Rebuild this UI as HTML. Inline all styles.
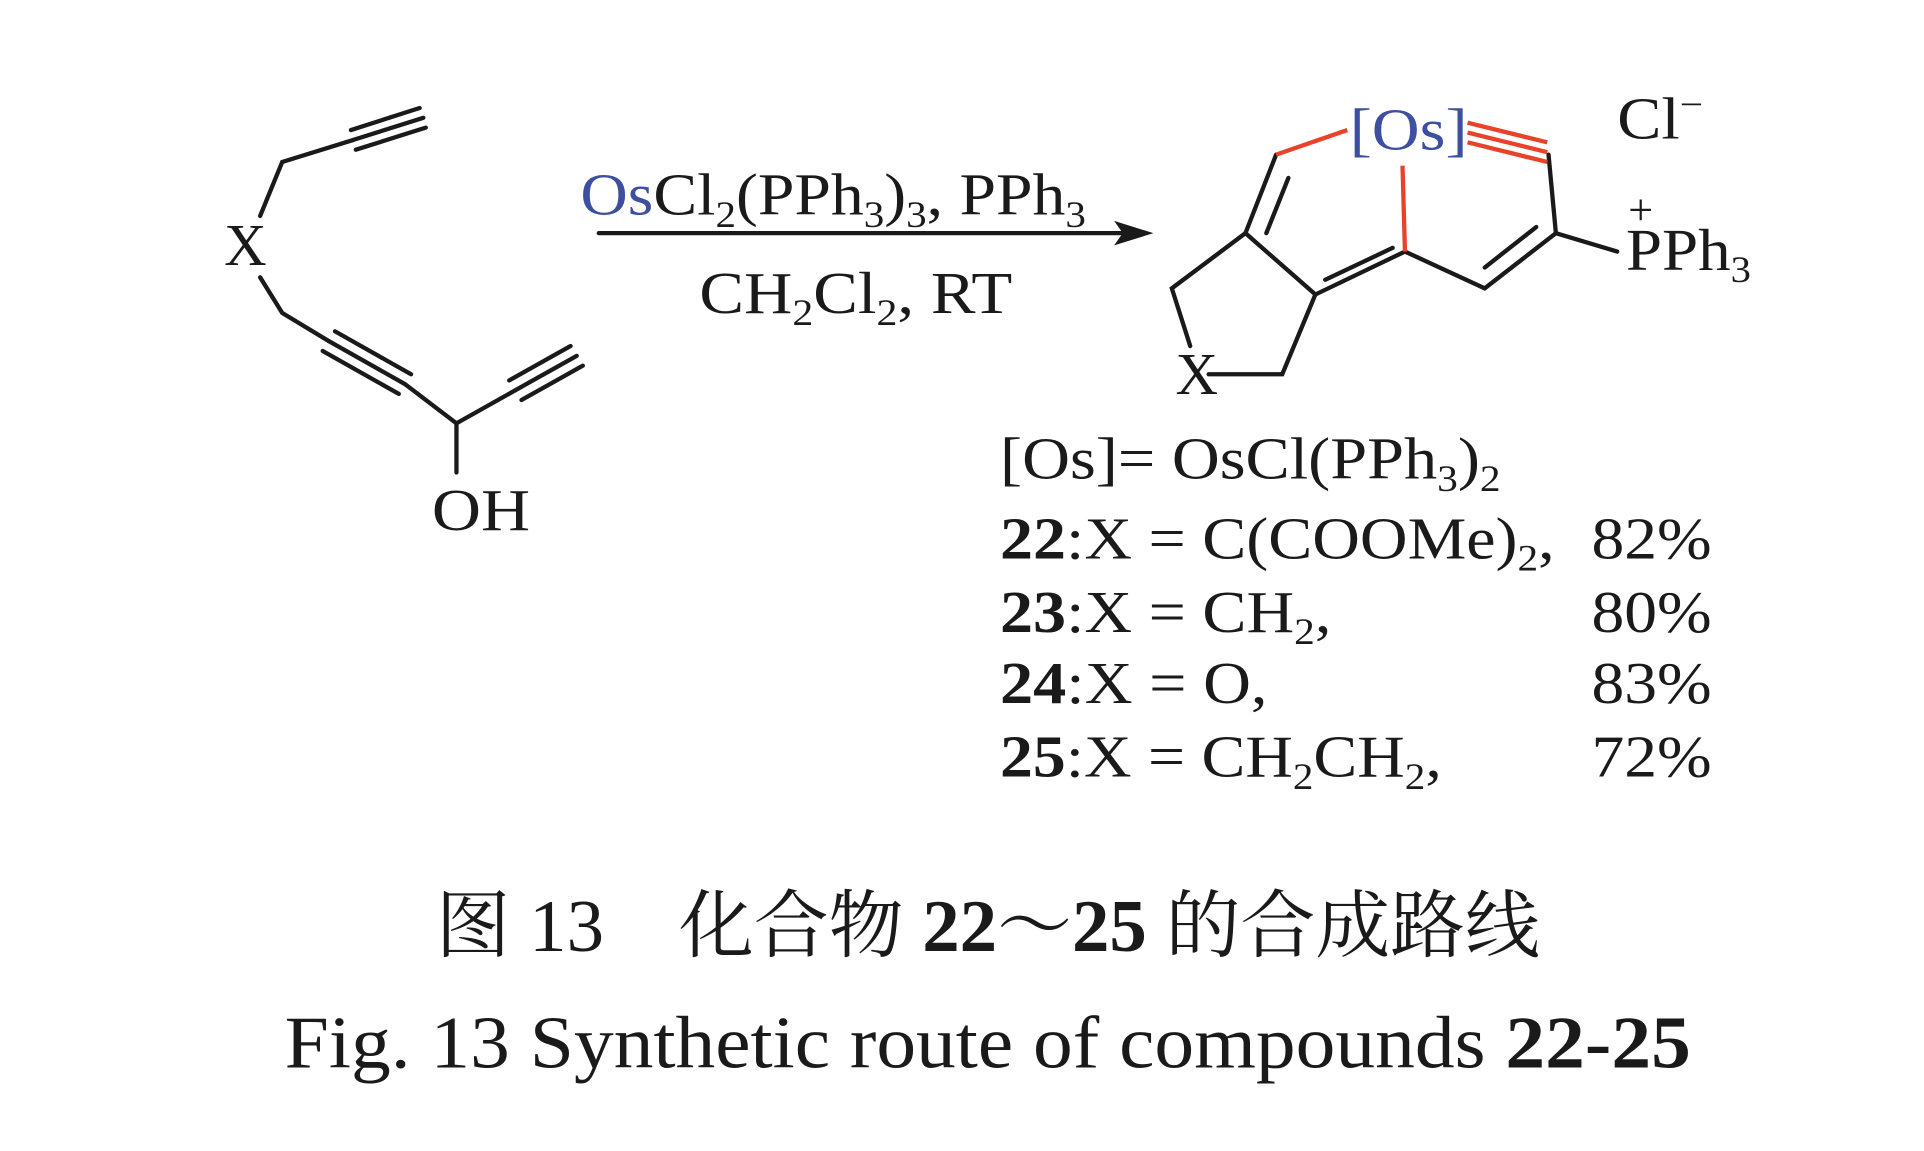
<!DOCTYPE html>
<html><head><meta charset="utf-8"><style>
html,body{margin:0;padding:0;background:#fff;}
svg{display:block;}
text{font-family:"Liberation Serif","Noto Serif CJK SC",serif;fill:#1a1a1a;}
</style></head><body>
<svg width="1924" height="1151" viewBox="0 0 1568 938" preserveAspectRatio="none" xmlns="http://www.w3.org/2000/svg">
<g stroke="#1a1a1a" stroke-width="3.5" fill="none" stroke-linecap="round">
<!-- left molecule -->
<polyline points="212,176 230,132 288,114"/>
<line x1="288" y1="114" x2="345" y2="96"/>
<line x1="286" y1="106" x2="342" y2="88"/>
<line x1="290" y1="122" x2="347" y2="104"/>
<polyline points="212,226 230,255 268,278"/>
<line x1="268" y1="278" x2="330" y2="313"/>
<line x1="273" y1="270" x2="335" y2="305"/>
<line x1="263" y1="286" x2="325" y2="321"/>
<polyline points="330,313 372,345 420,318"/>
<line x1="420" y1="318" x2="470" y2="290"/>
<line x1="415" y1="310" x2="465" y2="282"/>
<line x1="425" y1="326" x2="475" y2="298"/>
<line x1="372" y1="345" x2="372" y2="385"/>
<!-- arrow -->
<line x1="488" y1="190" x2="915" y2="190"/>
</g>
<polygon points="940,190 908,180 915,190 908,200" fill="#1a1a1a"/>
<text x="200" y="216" font-size="48" text-anchor="middle">X</text>
<text x="352" y="432" font-size="48" textLength="80" lengthAdjust="spacingAndGlyphs">OH</text>
<text x="473" y="175" font-size="48" textLength="412" lengthAdjust="spacingAndGlyphs"><tspan fill="#3c4fa0">Os</tspan>Cl<tspan font-size="30" dy="10">2</tspan><tspan dy="-10">(PPh</tspan><tspan font-size="30" dy="10">3</tspan><tspan dy="-10">)</tspan><tspan font-size="30" dy="10">3</tspan><tspan dy="-10">, PPh</tspan><tspan font-size="30" dy="10">3</tspan></text>
<text x="570" y="255" font-size="48" textLength="255" lengthAdjust="spacingAndGlyphs">CH<tspan font-size="30" dy="10">2</tspan><tspan dy="-10">Cl</tspan><tspan font-size="30" dy="10">2</tspan><tspan dy="-10">, RT</tspan></text>
<!-- product -->
<g stroke="#1a1a1a" stroke-width="3.5" fill="none" stroke-linecap="round">
<line x1="1040" y1="126" x2="1015" y2="190"/>
<line x1="1050" y1="145" x2="1032" y2="190"/>
<polyline points="1015,190 955,235 970,282"/>
<polyline points="985,305 1045,305 1072,240 1015,190"/>
<line x1="1072" y1="240" x2="1145" y2="205"/>
<line x1="1080" y1="228" x2="1135" y2="202"/>
<polyline points="1145,205 1210,235 1268,190"/>
<line x1="1210" y1="218" x2="1252" y2="185"/>
<line x1="1268" y1="190" x2="1262" y2="126"/>
<line x1="1268" y1="190" x2="1318" y2="205"/>
</g>
<g stroke="#e8432a" stroke-width="3.5" fill="none">
<line x1="1040" y1="126" x2="1098" y2="106"/>
<line x1="1145" y1="205" x2="1143" y2="135"/>
<line x1="1196" y1="108" x2="1261" y2="124"/>
<line x1="1196" y1="116" x2="1261" y2="132"/>
<line x1="1196" y1="100" x2="1261" y2="116"/>
</g>
<text x="1100" y="122" font-size="48" fill="#3c4fa0" style="fill:#3c4fa0" textLength="96" lengthAdjust="spacingAndGlyphs">[Os]</text>
<text x="1318" y="113" font-size="48" textLength="70" lengthAdjust="spacingAndGlyphs">Cl<tspan font-size="30" dy="-18">−</tspan></text>
<text x="1327" y="183" font-size="36">+</text>
<text x="1325" y="220" font-size="48" textLength="102" lengthAdjust="spacingAndGlyphs">PPh<tspan font-size="30" dy="10">3</tspan></text>
<text x="958" y="321" font-size="48">X</text>
<!-- table -->
<g font-size="48">
<text x="815" y="390" textLength="408" lengthAdjust="spacingAndGlyphs">[Os]= OsCl(PPh<tspan font-size="30" dy="10">3</tspan><tspan dy="-10">)</tspan><tspan font-size="30" dy="10">2</tspan></text>
<text x="815" y="455" textLength="452" lengthAdjust="spacingAndGlyphs"><tspan font-weight="bold">22</tspan>:X = C(COOMe)<tspan font-size="30" dy="10">2</tspan><tspan dy="-10">,</tspan></text>
<text x="815" y="515" textLength="270" lengthAdjust="spacingAndGlyphs"><tspan font-weight="bold">23</tspan>:X = CH<tspan font-size="30" dy="10">2</tspan><tspan dy="-10">,</tspan></text>
<text x="815" y="573" textLength="218" lengthAdjust="spacingAndGlyphs"><tspan font-weight="bold">24</tspan>:X = O,</text>
<text x="815" y="633" textLength="360" lengthAdjust="spacingAndGlyphs"><tspan font-weight="bold">25</tspan>:X = CH<tspan font-size="30" dy="10">2</tspan><tspan dy="-10">CH</tspan><tspan font-size="30" dy="10">2</tspan><tspan dy="-10">,</tspan></text>
<text x="1297" y="455" textLength="98" lengthAdjust="spacingAndGlyphs">82%</text>
<text x="1297" y="515" textLength="98" lengthAdjust="spacingAndGlyphs">80%</text>
<text x="1297" y="573" textLength="98" lengthAdjust="spacingAndGlyphs">83%</text>
<text x="1297" y="633" textLength="98" lengthAdjust="spacingAndGlyphs">72%</text>
</g>
<text x="355" y="775" font-size="60" textLength="900" lengthAdjust="spacingAndGlyphs">图 13　化合物 <tspan font-weight="bold">22</tspan>～<tspan font-weight="bold">25</tspan> 的合成路线</text>
<text x="232" y="870" font-size="60" textLength="1146" lengthAdjust="spacingAndGlyphs">Fig. 13  Synthetic route of compounds <tspan font-weight="bold">22-25</tspan></text>
</svg>
</body></html>
